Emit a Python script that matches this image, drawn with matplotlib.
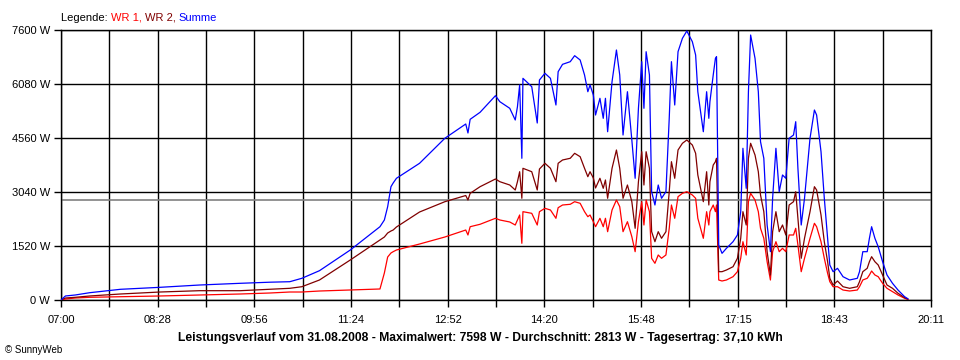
import numpy as np
import matplotlib
matplotlib.use("Agg")
import matplotlib.pyplot as plt
from matplotlib.offsetbox import TextArea, HPacker, AnchoredOffsetbox

# Leistungsverlauf 31.08.2008, Werte in W
zeit = ["07:00", "07:04", "07:13", "07:26", "07:54", "08:30", "09:06", "09:43", "10:10", "10:28",
        "10:39", "10:55", "11:23", "11:50", "11:54", "11:57", "12:00", "12:02", "12:05", "12:26",
        "12:49", "13:08", "13:10", "13:12", "13:21", "13:35", "13:39", "13:48", "13:53", "13:55",
        "13:57", "13:59", "14:00", "14:08", "14:13", "14:15", "14:20", "14:25", "14:30", "14:32",
        "14:36", "14:43", "14:47", "14:52", "14:56", "14:59", "15:01", "15:04", "15:06", "15:10",
        "15:13", "15:15", "15:17", "15:21", "15:25", "15:28", "15:31", "15:35", "15:39", "15:42",
        "15:45", "15:48", "15:50", "15:52", "15:55", "15:57", "16:00", "16:03", "16:06", "16:10",
        "16:13", "16:15", "16:18", "16:21", "16:25", "16:29", "16:34", "16:37", "16:39", "16:44",
        "16:47", "16:49", "16:50", "16:53", "16:55", "16:56", "16:58", "17:01", "17:05", "17:11",
        "17:15", "17:18", "17:20", "17:23", "17:25", "17:27", "17:31", "17:34", "17:36", "17:39",
        "17:42", "17:45", "17:47", "17:50", "17:53", "17:56", "17:59", "18:02", "18:06", "18:08",
        "18:10", "18:13", "18:16", "18:21", "18:25", "18:27", "18:31", "18:34", "18:37", "18:39",
        "18:42", "18:46", "18:51", "18:57", "19:04", "19:06", "19:09", "19:13", "19:15", "19:17",
        "19:20", "19:23", "19:27", "19:31", "19:36", "19:41", "19:47", "19:50"]

wr1 = [0, 28, 56, 76, 93, 113, 141, 169, 197, 225,
       225, 253, 281, 310, 760, 1210, 1323, 1360, 1407, 1576,
       1773, 1970, 1830, 2063, 2131, 2300, 2252, 2196, 2111, 2252,
       2393, 1596, 2486, 2440, 2111, 2486, 2581, 2533, 2300, 2598,
       2674, 2694, 2767, 2722, 2486, 2345, 2393, 2204, 2063, 2300,
       2063, 2300, 1923, 2533, 2815, 2626, 1923, 2204, 1782, 1360,
       2204, 2767, 2111, 2815, 2486, 1174, 1033, 1267, 1174, 1267,
       2018, 2674, 2300, 2908, 3003, 3049, 2956, 2863, 2300, 1737,
       2486, 2111, 2486, 2674, 2486, 2674, 563, 535, 563, 656,
       797, 1174, 1641, 1267, 2767, 3003, 2815, 2486, 2018, 1737,
       1078, 563, 1360, 1641, 1360, 1455, 1360, 1830, 1830, 2018,
       1548, 797, 1174, 1737, 2159, 2063, 1641, 1174, 752, 515,
       374, 374, 281, 253, 281, 374, 563, 611, 704, 816,
       704, 656, 470, 329, 234, 141, 48, 15]

wr2 = [0, 56, 76, 113, 169, 225, 262, 262, 301, 329,
       374, 563, 1126, 1689, 1773, 1886, 1942, 1970, 2055, 2477,
       2767, 2941, 2815, 3003, 3189, 3406, 3330, 3237, 3096, 3330,
       3611, 2863, 3707, 3611, 3096, 3687, 3848, 3707, 3330, 3848,
       3941, 3989, 4129, 4034, 3707, 3471, 3611, 3434, 3153, 3426,
       3144, 3378, 2863, 3707, 4222, 3707, 2863, 3237, 2767, 2018,
       3330, 4174, 3237, 4174, 3707, 1923, 1641, 1923, 1737, 1923,
       3049, 3893, 3426, 4222, 4411, 4504, 4363, 4129, 3519, 2767,
       3611, 2674, 3330, 3800, 3893, 3989, 797, 797, 844, 937,
       1174, 1737, 2486, 2111, 3989, 4411, 4081, 3611, 2956, 2486,
       1360, 704, 1923, 2486, 1923, 2111, 1830, 2674, 2767, 3049,
       2300, 1174, 1737, 2486, 3189, 3096, 2393, 1641, 1078, 611,
       422, 535, 374, 329, 374, 515, 797, 892, 1078, 1219,
       1078, 985, 704, 422, 329, 189, 65, 20]

summe = [0, 113, 141, 205, 301, 357, 422, 470, 501, 515,
         611, 825, 1407, 2063, 2252, 2626, 3189, 3293, 3426, 3848,
         4552, 4954, 4701, 5086, 5283, 5751, 5582, 5396, 5067, 5441,
         6052, 3989, 6240, 6004, 4982, 6193, 6381, 6240, 5489, 6426,
         6634, 6708, 6877, 6756, 6333, 5863, 6052, 5770, 5207, 5677,
         5114, 5677, 4737, 6145, 7037, 6333, 4644, 5863, 4504, 3426,
         5396, 6708, 5396, 6989, 6333, 3049, 2674, 3237, 2863, 3049,
         5114, 6708, 5489, 6989, 7366, 7572, 7271, 6896, 5863, 4737,
         5863, 5114, 5582, 6333, 6802, 6849, 1548, 1314, 1455, 1641,
         1830, 2486, 4270, 3144, 5863, 7459, 6802, 5863, 4456, 3989,
         2111, 1360, 2863, 4270, 3049, 3519, 3426, 4552, 4644, 5019,
         3707, 2111, 2863, 4552, 5348, 5207, 4174, 2863, 1737, 985,
         797, 892, 656, 563, 611, 797, 1360, 1360, 1737, 2063,
         1737, 1500, 1078, 704, 470, 281, 93, 35]

durchschnitt = 2813
y_ticks = [0, 1520, 3040, 4560, 6080, 7600]
x_labels = ["07:00", "08:28", "09:56", "11:24", "12:52", "14:20", "15:48", "17:15", "18:43", "20:11"]
titel = "Leistungsverlauf vom 31.08.2008 - Maximalwert: 7598 W - Durchschnitt: 2813 W - Tagesertrag: 37,10 kWh"

def minuten(s):
    h, m = s.split(":")
    return (int(h) - 7) * 60 + int(m)

t = [minuten(s) for s in zeit]
t_end = minuten(x_labels[-1])

plt.rcParams['font.family'] = ['Liberation Sans', 'DejaVu Sans']

fig = plt.figure(figsize=(9.6, 3.6), dpi=100)
ax = fig.add_axes([61/960, 60/360, 870/960, 270/360])

ax.axhline(durchschnitt, color='#808080', lw=1.2, zorder=2)
ax.plot(t, wr1, color='#ff0000', lw=0.9, zorder=3)
ax.plot(t, wr2, color='#800000', lw=0.9, zorder=4)
ax.plot(t, summe, color='#0000ff', lw=0.9, zorder=5)

ax.set_xlim(0, t_end)
ax.set_ylim(0, 7600)
ax.set_xticks(np.linspace(0, t_end, len(x_labels)))
ax.set_xticklabels(x_labels, fontsize=8)
ax.set_xticks(np.linspace(0, t_end, 2*len(x_labels)-1), minor=True)
ax.set_yticks(y_ticks)
ax.set_yticklabels(["{} W".format(v) for v in y_ticks], fontsize=8)
ax.tick_params(axis='both', which='both', direction='out', length=5, width=1, color='black', pad=3)
ax.tick_params(axis='x', which='major', pad=6)
ax.grid(True, which='both', color='black', lw=1, zorder=1)
ax.set_axisbelow(True)
for s in ax.spines.values():
    s.set_linewidth(1)

# Legende oben links, farbig
teile = [("Legende: ", 'black'), ("WR 1, ", '#ff0000'), ("WR 2, ", '#800000'), ("Summe", '#0000ff')]
boxes = [TextArea(txt, textprops=dict(color=c, fontsize=8)) for txt, c in teile]
pack = HPacker(children=boxes, align='baseline', pad=0, sep=0)
anch = AnchoredOffsetbox(loc='lower left', child=pack, frameon=False, pad=0, borderpad=0,
                         bbox_to_anchor=(61/960, 337/360), bbox_transform=fig.transFigure)
fig.add_artist(anch)

fig.text(480/960, 1 - 338/360, titel, ha='center', va='center', fontsize=8.7, fontweight='bold')
fig.text(5/960, 1 - 350/360, "\u00a9 SunnyWeb", ha='left', va='center', fontsize=7)

fig.savefig("out.png", dpi=100)
